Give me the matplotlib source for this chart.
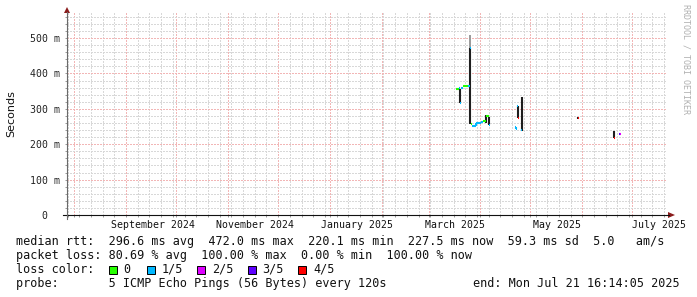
import matplotlib
matplotlib.use("Agg")
import matplotlib.pyplot as plt
import matplotlib.dates as mdates
import matplotlib.ticker as mticker
from matplotlib.lines import Line2D
from matplotlib.patches import Rectangle, Polygon
import pandas as pd

W, H = 697, 297

# loss buckets (of 5 pings)
loss_labels = ["0", "1/5", "2/5", "3/5", "4/5"]
loss_colors = ["#26ff00", "#00b8ff", "#dd00ff", "#5e00ff", "#ff0000"]

# median rtt segments (ms), coloured by loss bucket
med_start = ["2025-03-17 14:00", "2025-03-19 02:00", "2025-03-20 00:00", "2025-03-20 14:00",
             "2025-03-21 14:00", "2025-03-24 14:00", "2025-03-25 22:00", "2025-03-26 06:00",
             "2025-03-27 06:00", "2025-03-29 14:00", "2025-04-01 14:00", "2025-04-02 20:00",
             "2025-04-04 12:00", "2025-04-06 00:00",
             "2025-04-22 00:00", "2025-04-22 08:00", "2025-04-23 04:00", "2025-04-23 14:00",
             "2025-04-25 08:00", "2025-04-25 16:00",
             "2025-05-29 10:00",
             "2025-06-19 16:00", "2025-06-20 04:00", "2025-06-23 04:00", "2025-06-23 18:00"]
med_end = ["2025-03-19 02:00", "2025-03-19 18:00", "2025-03-20 12:00", "2025-03-21 14:00",
           "2025-03-24 14:00", "2025-03-25 20:00", "2025-03-26 06:00", "2025-03-27 06:00",
           "2025-03-29 14:00", "2025-04-01 14:00", "2025-04-02 20:00", "2025-04-04 08:00",
           "2025-04-06 00:00", "2025-04-06 12:00",
           "2025-04-22 08:00", "2025-04-22 16:00", "2025-04-23 14:00", "2025-04-24 00:00",
           "2025-04-25 18:00", "2025-04-26 02:00",
           "2025-05-29 18:00",
           "2025-06-20 02:00", "2025-06-20 14:00", "2025-06-23 18:00", "2025-06-24 06:00"]
med_ms = [355, 358, 318, 360, 364, 365, 471, 256, 251, 260, 264, 266, 280, 255,
          249, 243, 309, 273, 240, 335,
          275,
          238, 219, 229, 228]
med_loss = [0, 1, 1, 1, 0, 1, 1, 0, 1, 1, 1, 0, 0, 1,
            1, 1, 1, 4, 1, 3,
            4,
            4, 4, 3, 2]

# smoke (ping spread) per consolidated step
smoke_time = ["2025-03-19 22:00", "2025-03-26 00:00", "2025-04-04 10:00", "2025-04-06 06:00",
              "2025-04-23 16:00", "2025-04-25 18:00", "2025-05-29 14:00", "2025-06-20 03:00"]
smoke_lo = [318, 257, 260, 254, 273, 238, 271, 219]
smoke_hi = [356, 471, 282, 278, 309, 334, 278, 238]
# lighter outer smoke
smoke2_time = ["2025-03-26 00:00"]
smoke2_lo = [471]
smoke2_hi = [508]

month_labels = ["September 2024", "November 2024", "January 2025",
                "March 2025", "May 2025", "July 2025"]
month_label_at = ["2024-09-17", "2024-11-17", "2025-01-17",
                  "2025-03-17", "2025-05-17", "2025-07-17"]

y_ticks = [0, 100, 200, 300, 400, 500]
y_labels = ["0  ", "100 m", "200 m", "300 m", "400 m", "500 m"]

t_end = pd.Timestamp("2025-07-21 16:14:05")
t_start = t_end - pd.Timedelta(days=359)

stat_lines = [
    "median rtt:  296.6 ms avg  472.0 ms max  220.1 ms min  227.5 ms now  59.3 ms sd  5.0   am/s",
    "packet loss: 80.69 % avg  100.00 % max  0.00 % min  100.00 % now",
]
probe_text = "probe:       5 ICMP Echo Pings (56 Bytes) every 120s"
end_text = "end: Mon Jul 21 16:14:05 2025"

MONO = "DejaVu Sans Mono"


def fx(x):
    return x / W


def fy(y):
    return 1 - y / H


fig = plt.figure(figsize=(W / 100, H / 100), dpi=100)
fig.patch.set_facecolor("white")
ax = fig.add_axes([fx(67), fy(215), (667 - 67) / W, (215 - 13) / H])
ax.set_facecolor("white")

# smoke
ax.vlines(pd.to_datetime(smoke2_time), smoke2_lo, smoke2_hi, color="#9a9a9a", lw=1.4, zorder=3)
ax.vlines(pd.to_datetime(smoke_time), smoke_lo, smoke_hi, color="#1e1e1e", lw=1.5, zorder=3)

# median line coloured by loss
s = pd.to_datetime(med_start)
e = pd.to_datetime(med_end)
for i in range(len(med_ms)):
    c = loss_colors[med_loss[i]]
    ax.hlines(med_ms[i], s[i], e[i], color=c, lw=1.5, zorder=4)
    if i > 0 and med_loss[i] == med_loss[i - 1] and s[i] == e[i - 1]:
        ax.vlines(s[i], med_ms[i - 1], med_ms[i], color=c, lw=1.5, zorder=4)

ax.set_xlim(t_start, t_end)
ax.set_ylim(0, 571)

ax.xaxis.set_major_locator(mdates.MonthLocator())
ax.xaxis.set_minor_locator(mdates.WeekdayLocator(byweekday=mdates.SU))
ax.yaxis.set_major_locator(mticker.FixedLocator(y_ticks))
ax.yaxis.set_minor_locator(mticker.MultipleLocator(20))
ax.set_yticklabels(y_labels, family=MONO, fontsize=7.1, color="#222222")
ax.set_xticklabels([])

ax.grid(which="minor", color="#d8d8d8", lw=0.72, linestyle=(0.5, (2, 2)), antialiased=False)
ax.grid(which="major", color="#f2b6b6", lw=0.72, linestyle=(0.5, (2, 2)), antialiased=False)
ax.set_axisbelow(True)
ax.tick_params(axis="both", which="both", length=1.6, width=0.7, color="#999999")
ax.tick_params(axis="y", pad=3.4)
for sp in ax.spines.values():
    sp.set_visible(False)

for lab, d in zip(month_labels, month_label_at):
    ax.text(pd.Timestamp(d), -10 / 202, lab, transform=ax.get_xaxis_transform(),
            ha="center", va="center", family=MONO, fontsize=7.1, color="#111111")

# axes with arrows
fig.add_artist(Line2D([fx(63), fx(669)], [fy(215), fy(215)], color="#111111", lw=0.8))
fig.add_artist(Line2D([fx(67), fx(67)], [fy(219), fy(12)], color="#6a6a6a", lw=0.8))
fig.add_artist(Polygon([[fx(668), fy(212)], [fx(675), fy(215)], [fx(668), fy(218)]],
                       closed=True, color="#8b1c1c", lw=0))
fig.add_artist(Polygon([[fx(64), fy(13)], [fx(67), fy(7)], [fx(70), fy(13)]],
                       closed=True, color="#8b1c1c", lw=0))

fig.text(fx(11), fy(113.5), "Seconds", rotation=90, ha="center", va="center",
         family="DejaVu Sans", fontsize=8, color="#111111")
fig.text(fx(686), fy(4), "RRDTOOL / TOBI OETIKER", rotation=270, ha="center", va="top",
         family=MONO, fontsize=6, color="#b0b0b0")

# legend / stats
for i, line in enumerate(stat_lines):
    fig.text(fx(16), fy(241 + 14 * i), line, ha="left", va="center", family=MONO,
             fontsize=8.5, color="#111111")

row_y = 269.5
fig.text(fx(16), fy(row_y), "loss color:", ha="left", va="center", family=MONO,
         fontsize=8.5, color="#111111")
box_x = [108.5, 146.5, 197, 247.5, 298]
for bx, lab, col in zip(box_x, loss_labels, loss_colors):
    fig.add_artist(Rectangle((fx(bx), fy(row_y + 4)), 8 / W, 8 / H, facecolor=col,
                             edgecolor="#000000", lw=0.7, transform=fig.transFigure))
    fig.text(fx(bx + 15), fy(row_y), lab, ha="left", va="center", family=MONO,
             fontsize=8.5, color="#111111")

fig.text(fx(16), fy(283.3), probe_text, ha="left", va="center", family=MONO,
         fontsize=8.5, color="#111111")
fig.text(fx(680), fy(283.3), end_text, ha="right", va="center", family=MONO,
         fontsize=8.5, color="#111111")

fig.savefig("out.png", dpi=100)
